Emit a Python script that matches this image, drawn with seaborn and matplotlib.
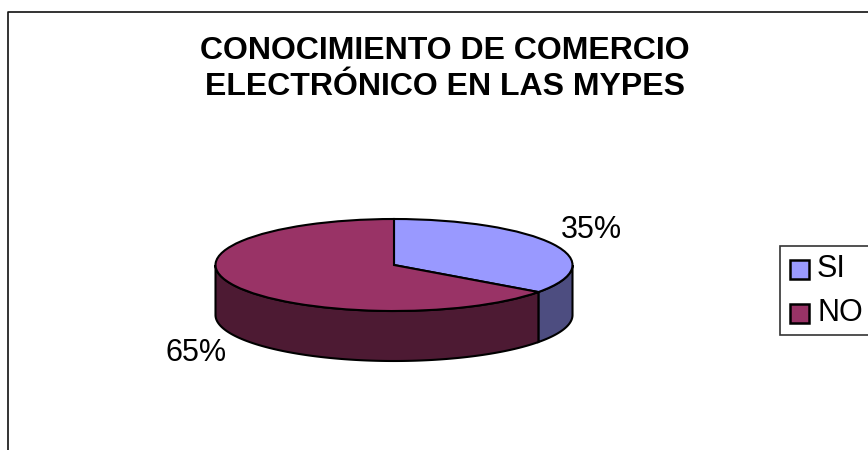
import numpy as np
import matplotlib
matplotlib.use("Agg")
import matplotlib.pyplot as plt
from matplotlib.patches import Rectangle
import seaborn as sns

categories = ["SI", "NO"]
values = [35, 65]
labels = ["35%", "65%"]
title = "CONOCIMIENTO DE COMERCIO\nELECTRÓNICO EN LAS MYPES"
top_colors = ["#9999FF", "#993366"]
side_colors = ["#4D4D80", "#4D1A33"]

sns.set_theme(style="white")
plt.rcParams["font.family"] = ["Liberation Sans", "DejaVu Sans"]

W, H = 868, 450
fig = plt.figure(figsize=(W / 100, H / 100), dpi=100, facecolor="white")
bg = fig.add_axes([0, 0, 1, 1])
bg.set_xlim(0, W)
bg.set_ylim(H, 0)
bg.axis("off")

# chart frame: open at the right and bottom edges
bg.plot([8, 8, W], [H, 12, 12], color="#111111", lw=1.2, solid_capstyle="butt")

bg.text(445, 69, title, ha="center", va="center", fontsize=23, fontweight="bold",
        color="black", linespacing=1.27)

# pie: elliptical top face
cx, cy, rx, ry, depth = 394, 265, 178.5, 46, 50
ax = fig.add_axes([(cx - rx) / W, 1 - (cy + ry) / H, 2 * rx / W, 2 * ry / H])
wedges, _ = ax.pie(values, colors=top_colors, startangle=90, counterclock=False, radius=1,
                   wedgeprops=dict(edgecolor="black", linewidth=1.5, zorder=3))
ax.set_aspect("auto")
ax.set_xlim(-1, 1)
ax.set_ylim(-1, 1)
for w in wedges:
    w.set_clip_on(False)

# extruded side, built from the same shares
d = depth / ry
edges = 90 - 360 * np.cumsum([0] + values) / np.sum(values)
for i in range(len(values)):
    hi, lo = edges[i], edges[i + 1]
    if hi <= -180 or lo >= 0:
        continue
    a = np.radians(np.linspace(max(lo, -180), min(hi, 0), 200))
    x = np.cos(a)
    y = np.sin(a)
    ax.fill(np.r_[x, x[::-1]], np.r_[y, y[::-1] - d], facecolor=side_colors[i],
            edgecolor="black", linewidth=1.5, clip_on=False, zorder=2)

# data labels
bg.text(591, 230, labels[0], ha="center", va="center", fontsize=22, color="black")
bg.text(196, 353, labels[1], ha="center", va="center", fontsize=22, color="black")

# legend
bg.add_patch(Rectangle((780, 246), 90, 89, facecolor="white", edgecolor="#333333", lw=1.2, clip_on=False))
for cat, col, yy in zip(categories, top_colors, [269, 313]):
    bg.add_patch(Rectangle((790, yy - 9.5), 19, 19, facecolor=col, edgecolor="black", lw=1.8))
    bg.text(817, yy, cat, ha="left", va="center", fontsize=22, color="black")

fig.savefig("out.png", dpi=100)
